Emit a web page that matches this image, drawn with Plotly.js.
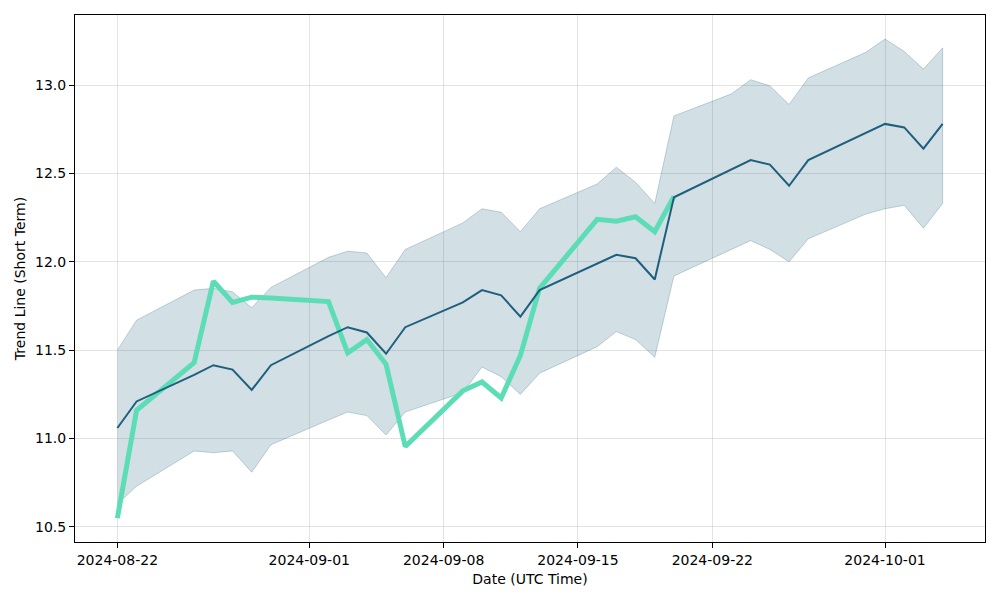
<!DOCTYPE html>
<html>
<head>
<meta charset="utf-8">
<script src="https://cdn.plot.ly/plotly-3.0.1.min.js"></script>
<style>html,body{margin:0;padding:0;background:#fff;}#chart{width:1000px;height:600px;}</style>
</head>
<body>
<div id="chart"></div>
<script>
const dates = ["2024-08-22","2024-08-23","2024-08-26","2024-08-27","2024-08-28","2024-08-29","2024-08-30",
  "2024-09-02","2024-09-03","2024-09-04","2024-09-05","2024-09-06","2024-09-09","2024-09-10","2024-09-11",
  "2024-09-12","2024-09-13","2024-09-16","2024-09-17","2024-09-18","2024-09-19","2024-09-20","2024-09-23",
  "2024-09-24","2024-09-25","2024-09-26","2024-09-27","2024-09-30","2024-10-01","2024-10-02","2024-10-03","2024-10-04"];
const trend = [11.06,11.21,11.36,11.415,11.39,11.275,11.415,11.58,11.63,11.60,11.48,11.63,11.77,11.84,11.81,
  11.69,11.84,11.99,12.04,12.02,11.90,12.365,12.52,12.575,12.55,12.43,12.575,12.73,12.78,12.76,12.64,12.78];
const upper = [11.50,11.67,11.84,11.85,11.83,11.74,11.855,12.025,12.06,12.05,11.91,12.07,12.22,12.30,12.28,
  12.17,12.30,12.44,12.535,12.45,12.33,12.825,12.95,13.03,12.995,12.89,13.04,13.185,13.26,13.19,13.09,13.21];
const lower = [10.63,10.73,10.93,10.92,10.93,10.81,10.965,11.105,11.15,11.13,11.02,11.15,11.26,11.405,11.35,
  11.25,11.37,11.52,11.605,11.56,11.46,11.92,12.07,12.12,12.07,12.00,12.13,12.27,12.30,12.32,12.19,12.33];
const price = [10.55,11.16,11.43,11.89,11.77,11.80,11.795,11.775,11.485,11.56,11.42,10.955,11.27,11.32,11.23,
  11.47,11.85,12.24,12.23,12.255,12.17,12.37,null,null,null,null,null,null,null,null,null,null];
const xTickVals = ["2024-08-22","2024-09-01","2024-09-08","2024-09-15","2024-09-22","2024-10-01"];
const xTickText = ["2024-08-22","2024-09-01","2024-09-08","2024-09-15","2024-09-22","2024-10-01"];
const yTickVals = [10.5,11.0,11.5,12.0,12.5,13.0];

const bandX = dates.concat(dates.slice().reverse());
const bandY = upper.concat(lower.slice().reverse());

const traces = [
  {x: bandX, y: bandY, type: 'scatter', mode: 'lines', fill: 'toself',
   fillcolor: 'rgba(31,94,126,0.2)', line: {color: 'rgba(31,94,126,0.25)', width: 1},
   hoverinfo: 'skip', showlegend: false},
  {x: dates, y: price, type: 'scatter', mode: 'lines', connectgaps: false,
   line: {color: '#5cddb6', width: 5}, showlegend: false},
  {x: dates, y: trend, type: 'scatter', mode: 'lines',
   line: {color: '#1f5f7e', width: 2}, showlegend: false}
];

const axisCommon = {
  showline: true, mirror: true, linecolor: '#000', linewidth: 1,
  ticks: 'outside', ticklen: 5, tickwidth: 1, tickcolor: '#000',
  showgrid: true, gridcolor: 'rgba(176,176,176,0.35)', gridwidth: 1,
  zeroline: false, tickfont: {family: 'DejaVu Sans', size: 14, color: '#000'}
};

const layout = {
  width: 1000, height: 600,
  margin: {l: 75, r: 15, t: 15, b: 58},
  paper_bgcolor: '#fff', plot_bgcolor: '#fff',
  font: {family: 'DejaVu Sans', size: 14, color: '#000'},
  showlegend: false,
  xaxis: Object.assign({}, axisCommon, {
    type: 'date', range: ['2024-08-19 19:00', '2024-10-06 05:00'],
    tickmode: 'array', tickvals: xTickVals, ticktext: xTickText,
    title: {text: 'Date (UTC Time)', font: {family: 'DejaVu Sans', size: 14, color: '#000'}, standoff: 7}
  }),
  yaxis: Object.assign({}, axisCommon, {
    range: [10.415, 13.396],
    tickmode: 'array', tickvals: yTickVals, ticktext: yTickVals.map(v => v.toFixed(1)),
    title: {text: 'Trend Line (Short Term)', font: {family: 'DejaVu Sans', size: 14, color: '#000'}, standoff: 6}
  })
};

Plotly.newPlot('chart', traces, layout, {displayModeBar: false, staticPlot: true});
</script>
</body>
</html>
